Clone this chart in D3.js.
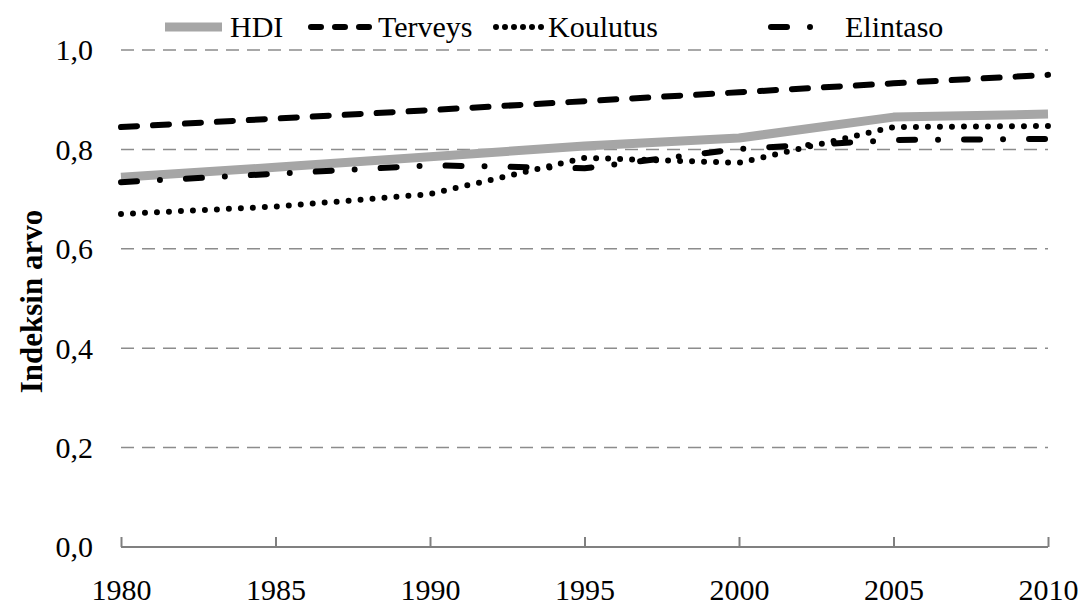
<!DOCTYPE html>
<html><head><meta charset="utf-8">
<script src="https://cdn.jsdelivr.net/npm/d3@7/dist/d3.min.js"></script>
<style>body{margin:0;background:#fff}svg{display:block}svg text{font-family:"Liberation Serif","Times New Roman",serif !important}</style>
</head><body><svg id="c" width="1084" height="606" font-family="Liberation Serif"></svg>
<script>
const years = [1980, 1985, 1990, 1995, 2000, 2005, 2010];
const hdi = [0.744, 0.764, 0.785, 0.807, 0.823, 0.865, 0.871];
const terveys = [0.845, 0.862, 0.879, 0.897, 0.915, 0.933, 0.950];
const koulutus = [0.670, 0.685, 0.710, 0.783, 0.773, 0.845, 0.847];
const elintaso = [0.734, 0.751, 0.768, 0.762, 0.801, 0.819, 0.821];
const seriesNames = ["HDI", "Terveys", "Koulutus", "Elintaso"];
const yTicks = [0, 0.2, 0.4, 0.6, 0.8, 1.0];
const yTitle = "Indeksin arvo";

const svg = d3.select("#c");
const x = d3.scaleLinear().domain([1980, 2010]).range([121, 1048]);
const y = d3.scaleLinear().domain([0, 1]).range([547, 50]);
const FS = 30;

// gridlines
svg.append("g").selectAll("line").data(yTicks.filter(d => d > 0)).join("line")
  .attr("x1", x(1980)).attr("x2", x(2010))
  .attr("y1", d => y(d)).attr("y2", d => y(d))
  .attr("stroke", "#8c8c8c").attr("stroke-width", 1.5).attr("stroke-dasharray", "13,8");

// x axis
const xAxis = d3.axisBottom(x).tickValues(years).tickSize(-10).tickFormat(d3.format("d")).tickPadding(53);
const gx = svg.append("g").attr("transform", `translate(0,${y(0)})`).call(xAxis);
gx.attr("font-family", null).attr("font-size", null);
gx.select(".domain").attr("stroke", "#808080").attr("stroke-width", 2).attr("d", `M${x(1980)},0H${x(2010)}`);
gx.selectAll(".tick line").attr("stroke", "#808080").attr("stroke-width", 2);
gx.selectAll(".tick text").attr("font-size", FS).attr("fill", "#000").attr("dy", "0");

// y labels
const gy = svg.append("g").attr("transform", `translate(${x(1980)},0)`)
  .call(d3.axisLeft(y).tickValues(yTicks).tickSize(0).tickPadding(28).tickFormat(d => d3.format(".1f")(d).replace(".", ",")));
gy.attr("font-family", null).attr("font-size", null);
gy.select(".domain").remove();
gy.selectAll(".tick text").attr("font-size", FS).attr("fill", "#000").attr("dy", "0.33em");

// y title
svg.append("text").attr("transform", `translate(31,${(y(0)+y(1))/2 + 3}) rotate(-90)`)
  .attr("text-anchor", "middle").attr("dy", "0.35em").attr("font-size", 31).attr("font-weight", "bold").text(yTitle);

const styles = [
  {stroke: "#a6a6a6", width: 9, dash: null, cap: "butt"},
  {stroke: "#000", width: 6, dash: "16,16", cap: "round"},
  {stroke: "#000", width: 6, dash: "0,12", cap: "round"},
  {stroke: "#000", width: 6, dash: "16,23,0,26", cap: "round"}
];
const data = [hdi, terveys, koulutus, elintaso];
const line = d3.line().x((d, i) => x(years[i])).y(d => y(d));
const order = [0, 1, 3, 2];
order.forEach(k => {
  const s = styles[k];
  svg.append("path").datum(data[k]).attr("d", line).attr("fill", "none")
    .attr("stroke", s.stroke).attr("stroke-width", s.width)
    .attr("stroke-dasharray", s.dash).attr("stroke-linecap", s.cap).attr("stroke-linejoin", "round");
});

// legend
const legY = 27;
const legend = [
  {x1: 165, x2: 222, dash: null, tx: 230},
  {x1: 311, x2: 370, dash: "10,14", tx: 378},
  {x1: 496, x2: 542, dash: "0,9", tx: 548},
  {x1: 771, x2: 814, dash: "16,23,0,100", tx: 845}
];
const lg = svg.append("g");
seriesNames.forEach((n, k) => {
  const s = styles[k], L = legend[k];
  lg.append("line").attr("x1", L.x1).attr("x2", L.x2)
    .attr("y1", legY).attr("y2", legY)
    .attr("stroke", s.stroke).attr("stroke-width", s.width)
    .attr("stroke-dasharray", L.dash).attr("stroke-linecap", s.cap);
  lg.append("text").attr("x", L.tx).attr("y", legY).attr("dy", "0.33em")
    .attr("font-size", FS).text(n);
});
</script></body></html>
